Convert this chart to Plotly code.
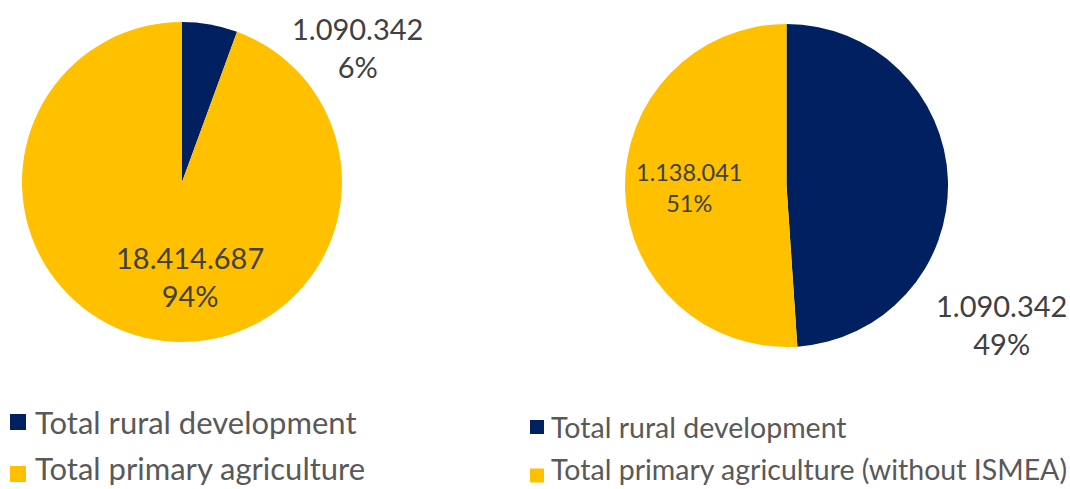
import plotly.graph_objects as go

W, H = 1070, 489

# Data
left_labels = ["Total rural development", "Total primary agriculture"]
left_values = [1090342, 18414687]
right_labels = ["Total rural development", "Total primary agriculture (without ISMEA)"]
right_values = [1090342, 1138041]
colors = ["#002060", "#FFC000"]

FONT = "Lato"
TXT = "#404040"
LEG = "#595959"


def fmt(v):
    return f"{v:,}".replace(",", ".")


def pct(vals, i):
    return f"{round(100 * vals[i] / sum(vals))}%"


def px_dom(x0, x1, ytop, ybot):
    return dict(x=[x0 / W, x1 / W], y=[1 - ybot / H, 1 - ytop / H])


fig = go.Figure()
fig.add_trace(go.Pie(
    labels=left_labels, values=left_values, sort=False, direction="clockwise", rotation=0,
    marker=dict(colors=colors, line=dict(width=0)), textinfo="none", hoverinfo="label+value+percent",
    domain=px_dom(22, 342, 22, 342), showlegend=False,
))
fig.add_trace(go.Pie(
    labels=right_labels, values=right_values, sort=False, direction="clockwise", rotation=0,
    marker=dict(colors=colors, line=dict(width=0)), textinfo="none", hoverinfo="label+value+percent",
    domain=px_dom(625, 948, 24, 347), showlegend=False,
))

# Data labels (positions in pixels, text from data)
label_specs = [
    (left_values, 0, 357, 48, 29),
    (left_values, 1, 190, 276, 29),
    (right_values, 1, 689, 187, 23.5),
    (right_values, 0, 1001, 324, 29),
]
for vals, i, x, y, fs in label_specs:
    fig.add_annotation(
        x=x / W, y=1 - y / H, xref="paper", yref="paper", showarrow=False,
        text=f"{fmt(vals[i])}<br>{pct(vals, i)}", align="center",
        font=dict(family=FONT, size=fs, color=TXT), xanchor="center", yanchor="middle",
    )

# Legends (one per pie)
legend_specs = [
    (left_labels, 10, 33, [422, 474], 16, 31),
    (right_labels, 530, 549, [427, 475.5], 14, 28.5),
]
for labels, sx, tx, ys, sz, fs in legend_specs:
    for lab, col, yc in zip(labels, colors, ys):
        fig.add_shape(type="rect", xref="paper", yref="paper",
                      x0=sx / W, x1=(sx + sz) / W,
                      y0=1 - (yc + sz / 2) / H, y1=1 - (yc - sz / 2) / H,
                      fillcolor=col, line=dict(width=0))
        half = fs * 1.3 / 2
        ty = min(yc, H - 1 - half)
        fig.add_annotation(x=tx / W, y=1 - ty / H, xref="paper", yref="paper", showarrow=False,
                           text=lab, xanchor="left", yanchor="middle",
                           font=dict(family=FONT, size=fs, color=LEG))

fig.update_layout(
    width=W, height=H, margin=dict(l=0, r=0, t=0, b=0),
    paper_bgcolor="white", plot_bgcolor="white",
    font=dict(family=FONT, color=LEG),
    showlegend=False,
)

fig.write_html("out.html")
